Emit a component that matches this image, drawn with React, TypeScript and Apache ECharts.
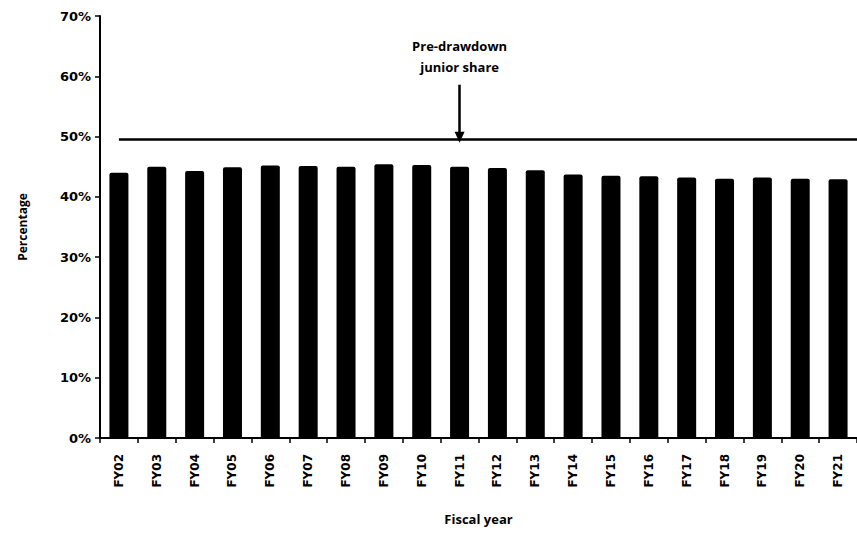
import React, { useEffect, useRef } from "react";
import * as echarts from "echarts";

const categories = ["FY02","FY03","FY04","FY05","FY06","FY07","FY08","FY09","FY10","FY11","FY12","FY13","FY14","FY15","FY16","FY17","FY18","FY19","FY20","FY21"];
const juniorShare = [44.0,45.0,44.3,44.9,45.2,45.1,45.0,45.4,45.3,45.0,44.8,44.4,43.7,43.5,43.4,43.2,43.0,43.2,43.0,42.9];
const preDrawdownShare = 49.6;
const annotationText = "Pre-drawdown\njunior share";
const annotationCategory = "FY11";
const yTicks = { min: 0, max: 70, interval: 10 };

export default function App() {
  const ref = useRef<HTMLDivElement>(null);
  useEffect(() => {
    if (!ref.current) return;
    const chart = echarts.init(ref.current, null, { renderer: "svg" });
    chart.setOption({
      animation: false,
      backgroundColor: "#fff",
      grid: { left: 100, top: 16, width: 768, bottom: 110, containLabel: false },
      xAxis: {
        type: "category",
        data: categories,
        boundaryGap: true,
        name: "Fiscal year",
        nameLocation: "middle",
        nameGap: 74,
        nameTextStyle: { fontFamily: "Open Sans", fontWeight: "bold", fontSize: 13, color: "#000" },
        axisLine: { show: true, lineStyle: { color: "#000", width: 2 } },
        axisTick: { show: true, length: 5, lineStyle: { color: "#000", width: 1.5 } },
        axisLabel: {
          rotate: 90,
          margin: 16,
          interval: 0,
          fontFamily: "DejaVu Sans",
          fontWeight: "bold",
          fontSize: 12,
          color: "#000",
        },
        splitLine: { show: false },
      },
      yAxis: {
        type: "value",
        min: yTicks.min,
        max: yTicks.max,
        interval: yTicks.interval,
        name: "Percentage",
        nameLocation: "middle",
        nameGap: 72,
        nameRotate: 90,
        nameTextStyle: { fontFamily: "Open Sans", fontWeight: "bold", fontSize: 12, color: "#000" },
        axisLine: { show: true, lineStyle: { color: "#000", width: 2 } },
        axisTick: { show: true, length: 5, lineStyle: { color: "#000", width: 1.5 } },
        axisLabel: {
          formatter: "{value}%",
          margin: 9,
          fontFamily: "DejaVu Sans",
          fontWeight: "bold",
          fontSize: 13,
          color: "#000",
        },
        splitLine: { show: false },
      },
      series: [
        {
          type: "bar",
          data: juniorShare,
          barWidth: 19,
          itemStyle: { color: "#000", borderRadius: [2, 2, 0, 0] },
          markLine: {
            silent: true,
            animation: false,
            label: { show: false },
            data: [
              [
                { xAxis: 0, yAxis: preDrawdownShare, symbol: "none" },
                { x: 857, yAxis: preDrawdownShare, symbol: "none" },
              ],
              [
                { coord: [annotationCategory, 58.6], symbol: "none" },
                { coord: [annotationCategory, preDrawdownShare + 0.3], symbol: "triangle", symbolSize: [10, 11], symbolRotate: 180 },
              ],
            ],
            lineStyle: { color: "#000", width: 2.5, type: "solid" },
          },
          markPoint: {
            silent: true,
            symbol: "rect",
            symbolSize: 0,
            data: [{ coord: [annotationCategory, 63.3] }],
            label: {
              show: true,
              formatter: annotationText,
              position: "inside",
              fontFamily: "Open Sans",
              fontWeight: "bold",
              fontSize: 13,
              lineHeight: 21,
              color: "#000",
              align: "center",
            },
          },
        },
      ],
    });
    return () => chart.dispose();
  }, []);
  return (
    <div
      ref={ref}
      style={{ position: "absolute", left: 0, top: 0, width: 857, height: 548 }}
    />
  );
}
